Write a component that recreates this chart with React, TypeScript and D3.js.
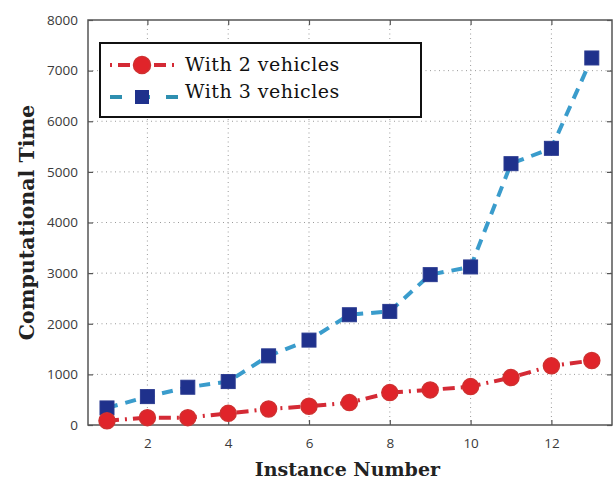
import { useEffect, useRef } from "react";
import * as d3 from "d3";

// Instance numbers and computational times
const instances = [1, 2, 3, 4, 5, 6, 7, 8, 9, 10, 11, 12, 13];
const twoVehicles = [85, 145, 145, 230, 317, 370, 442, 640, 693, 759, 937, 1168, 1273];
const threeVehicles = [337, 561, 746, 858, 1366, 1677, 2178, 2244, 2970, 3122, 5162, 5465, 7250];
const xTicks = [2, 4, 6, 8, 10, 12];
const yTicks = [0, 1000, 2000, 3000, 4000, 5000, 6000, 7000, 8000];
const seriesNames = ["With 2 vehicles", "With 3 vehicles"];

const App: React.FC = () => {
    const svgRef = useRef<SVGSVGElement | null>(null);

    useEffect(() => {
        if (!svgRef.current) return;
        const width = 615;
        const height = 479;
        const margin = { top: 20, right: 3, bottom: 54, left: 88 };
        const innerW = width - margin.left - margin.right;
        const innerH = height - margin.top - margin.bottom;

        const svg = d3.select(svgRef.current);
        svg.selectAll("*").remove();
        svg.attr("width", width).attr("height", height);

        const x = d3.scaleLinear().domain([0.53, 13.5]).range([0, innerW]);
        const y = d3.scaleLinear().domain([0, 8000]).range([innerH, 0]);

        const g = svg.append("g").attr("transform", `translate(${margin.left},${margin.top})`);

        g.append("rect").attr("width", innerW).attr("height", innerH).attr("fill", "#fff");

        // dotted grid
        g.selectAll(".gx").data(xTicks).enter().append("line")
            .attr("x1", d => x(d)).attr("x2", d => x(d))
            .attr("y1", 0).attr("y2", innerH)
            .attr("stroke", "#9a9a9a").attr("stroke-width", 1).attr("stroke-dasharray", "1,3.5");
        g.selectAll(".gy").data(yTicks.slice(1, -1)).enter().append("line")
            .attr("x1", 0).attr("x2", innerW)
            .attr("y1", d => y(d)).attr("y2", d => y(d))
            .attr("stroke", "#9a9a9a").attr("stroke-width", 1).attr("stroke-dasharray", "1,3.5");

        // axes with inward ticks (matlab style)
        const axisColor = "#555";
        const styleAxis = (sel: d3.Selection<SVGGElement, unknown, null, undefined>) => {
            sel.select(".domain").remove();
            sel.selectAll("line").attr("stroke", axisColor).attr("stroke-width", 1.2);
            sel.selectAll("text").attr("fill", "#3a3a3a").style("font-family", "'Open Sans', sans-serif").style("font-size", "13.5px");
        };
        g.append("g").attr("transform", `translate(0,${innerH})`)
            .call(d3.axisBottom(x).tickValues(xTicks).tickSize(-5).tickPadding(13).tickFormat(d3.format("d")))
            .call(styleAxis);
        g.append("g")
            .call(d3.axisTop(x).tickValues(xTicks).tickSize(-5).tickFormat(() => ""))
            .call(styleAxis);
        g.append("g")
            .call(d3.axisLeft(y).tickValues(yTicks).tickSize(-5).tickPadding(10).tickFormat(d3.format("d")))
            .call(styleAxis);
        g.append("g").attr("transform", `translate(${innerW},0)`)
            .call(d3.axisRight(y).tickValues(yTicks).tickSize(-5).tickFormat(() => ""))
            .call(styleAxis);

        g.append("rect").attr("width", innerW).attr("height", innerH)
            .attr("fill", "none").attr("stroke", axisColor).attr("stroke-width", 1.5);

        const line = d3.line<number>().x((_, i) => x(instances[i])).y(d => y(d));

        // 3 vehicles: dashed light blue with navy squares
        g.append("path").datum(threeVehicles).attr("d", line)
            .attr("fill", "none").attr("stroke", "#3a9ccc").attr("stroke-width", 4)
            .attr("stroke-dasharray", "11,8");
        g.selectAll(".sq").data(threeVehicles).enter().append("rect")
            .attr("x", (_, i) => x(instances[i]) - 7).attr("y", d => y(d) - 7)
            .attr("width", 14).attr("height", 14)
            .attr("fill", "#1f318c").attr("stroke", "#2a3a90").attr("stroke-width", 1);

        // 2 vehicles: dash-dot red with circles
        g.append("path").datum(twoVehicles).attr("d", line)
            .attr("fill", "none").attr("stroke", "#d42a35").attr("stroke-width", 4)
            .attr("stroke-dasharray", "12,6,2,6");
        g.selectAll(".ci").data(twoVehicles).enter().append("circle")
            .attr("cx", (_, i) => x(instances[i])).attr("cy", d => y(d)).attr("r", 8)
            .attr("fill", "#e0242a").attr("stroke", "#d03030").attr("stroke-width", 1.5);

        // legend
        const lg = svg.append("g").attr("transform", "translate(100,43)");
        lg.append("rect").attr("width", 321).attr("height", 74)
            .attr("fill", "#fff").attr("stroke", "#111").attr("stroke-width", 2);
        lg.append("line").attr("x1", 10).attr("x2", 76).attr("y1", 22).attr("y2", 22)
            .attr("stroke", "#d42a35").attr("stroke-width", 4).attr("stroke-dasharray", "2,6,12,6,12,6,12,6,2");
        lg.append("circle").attr("cx", 42).attr("cy", 22).attr("r", 8.5)
            .attr("fill", "#e0242a").attr("stroke", "#d03030").attr("stroke-width", 1.5);
        lg.append("line").attr("x1", 10).attr("x2", 78).attr("y1", 54).attr("y2", 54)
            .attr("stroke", "#2e8fb0").attr("stroke-width", 4).attr("stroke-dasharray", "12,16,12,16,12");
        lg.append("rect").attr("x", 35).attr("y", 47).attr("width", 14).attr("height", 14)
            .attr("fill", "#1f318c");
        lg.selectAll(".lt").data(seriesNames).enter().append("text")
            .attr("x", 85).attr("y", (_, i) => 28 + i * 27)
            .attr("fill", "#111")
            .style("font-family", "'DejaVu Serif', serif").style("font-size", "19px")
            .style("letter-spacing", "0.5px")
            .text(d => d);

        // axis titles
        svg.append("text")
            .attr("x", margin.left + x(7) - 2).attr("y", 476)
            .attr("text-anchor", "middle").attr("fill", "#222")
            .style("font-family", "'DejaVu Serif', serif").style("font-weight", "bold").style("font-size", "19px")
            .text("Instance Number");
        svg.append("text")
            .attr("transform", `translate(34,${margin.top + innerH / 2}) rotate(-90)`)
            .attr("text-anchor", "middle").attr("fill", "#222")
            .style("font-family", "'DejaVu Serif', serif").style("font-weight", "bold").style("font-size", "20.5px")
            .text("Computational Time");
    }, []);

    return (
        <div style={{ position: "absolute", left: 0, top: 0, width: 615, height: 479, background: "#fff" }}>
            <svg ref={svgRef} style={{ display: "block" }}></svg>
        </div>
    );
};

export default App;
